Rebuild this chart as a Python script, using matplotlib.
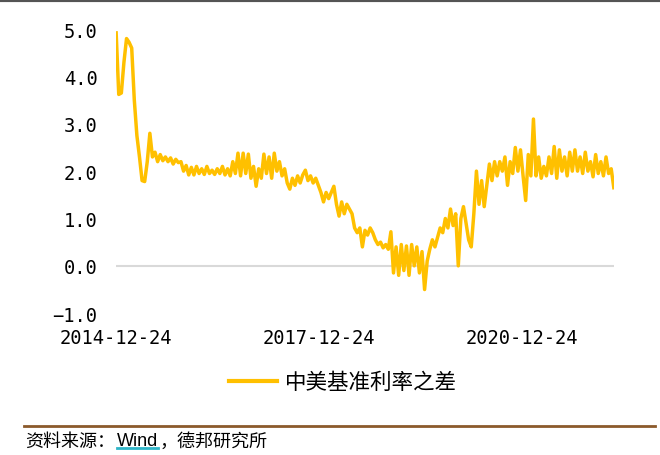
import numpy as np
import pandas as pd
import matplotlib
matplotlib.use("Agg")
import matplotlib.pyplot as plt
from matplotlib.lines import Line2D

plt.rcParams['font.family'] = ['Noto Sans CJK SC', 'DejaVu Sans']

# 中美基准利率之差 (%), sampled every 2 weeks from 2014-12-24
start_date = "2014-12-24"
spread = [
    4.92, 3.62, 3.65, 4.30, 4.80, 4.72, 4.60, 3.50, 2.75, 2.30,
    1.80, 1.78, 2.20, 2.80, 2.30, 2.40, 2.20, 2.35, 2.22, 2.30,
    2.20, 2.28, 2.15, 2.25, 2.18, 2.20, 2.00, 2.12, 1.92, 2.08,
    1.92, 2.10, 1.95, 2.05, 1.93, 2.10, 1.95, 2.02, 1.93, 2.05,
    1.95, 2.10, 1.92, 2.05, 1.90, 2.20, 1.95, 2.38, 1.90, 2.38,
    1.95, 2.36, 1.85, 2.10, 1.68, 2.05, 1.85, 2.36, 1.95, 2.30,
    1.85, 2.38, 2.00, 2.20, 1.90, 2.05, 1.75, 1.62, 1.85, 1.70,
    1.90, 1.75, 1.92, 2.02, 1.80, 1.90, 1.75, 1.85, 1.70, 1.55,
    1.35, 1.55, 1.42, 1.55, 1.68, 1.30, 1.05, 1.35, 1.10, 1.30,
    1.20, 1.10, 0.80, 0.70, 0.80, 0.40, 0.75, 0.65, 0.80, 0.70,
    0.55, 0.45, 0.50, 0.38, 0.45, 0.35, 0.72, -0.15, 0.40, -0.20,
    0.45, -0.10, 0.42, -0.20, 0.45, 0.00, 0.40, -0.15, 0.30, -0.50,
    0.10, 0.35, 0.55, 0.40, 0.60, 0.80, 0.70, 1.00, 0.80, 1.20,
    0.85, 1.10, 0.00, 1.00, 1.25, 0.90, 0.55, 0.40, 1.10, 2.00,
    1.30, 1.80, 1.25, 1.70, 2.15, 1.80, 2.20, 1.90, 2.20, 2.00,
    2.30, 1.70, 2.20, 1.95, 2.50, 2.00, 2.45, 1.90, 1.38, 2.35,
    1.90, 3.10, 1.90, 2.30, 1.85, 2.10, 1.90, 2.30, 1.95, 2.52,
    1.85, 2.45, 2.00, 2.30, 1.90, 2.40, 2.00, 2.45, 2.00, 2.30,
    1.95, 2.40, 2.00, 2.20, 1.88, 2.35, 1.95, 2.20, 1.90, 2.30,
    1.95, 2.05, 1.65,
]
dates = pd.date_range(start_date, periods=len(spread), freq="14D")
xtick_dates = pd.to_datetime(["2014-12-24", "2017-12-24", "2020-12-24"])
yticks = [-1.0, 0.0, 1.0, 2.0, 3.0, 4.0, 5.0]

gold = "#FFC000"

fig = plt.figure(figsize=(6.6, 4.56), dpi=100)
ax = fig.add_axes([0.176, 0.311, 0.754, 0.623])

ax.axhline(0, color="#D9D9D9", lw=1.5, zorder=1)
ax.plot(dates, spread, color=gold, lw=2.5, zorder=2)

ax.set_xlim(dates[0], dates[-1])
ax.set_ylim(-1, 5)
ax.set_yticks(yticks)
ax.set_yticklabels([f"{v:.1f}".replace("-", "\u2212") for v in yticks],
                   family="DejaVu Sans Mono", fontsize=13.5)
ax.set_xticks(xtick_dates)
ax.set_xticklabels([d.strftime("%Y-%m-%d") for d in xtick_dates],
                   family="DejaVu Sans Mono", fontsize=13.5)
ax.tick_params(axis="both", length=0)
ax.tick_params(axis="y", pad=13.5)
ax.tick_params(axis="x", pad=11)
for s in ax.spines.values():
    s.set_visible(False)

handle = Line2D([], [], color=gold, lw=3)
fig.legend([handle], ["中美基准利率之差"], loc="center", bbox_to_anchor=(0.52, 0.16),
           frameon=False, fontsize=15.5, handlelength=2.2, handletextpad=0.4)

# top border and source note
fig.add_artist(Line2D([0, 1], [0.997, 0.997], color="#555555", lw=3))
fig.add_artist(Line2D([0.036, 0.993], [0.063, 0.063], color="#8B5A2B", lw=2))
fig.text(0.038, 0.032, "资料来源：", fontsize=13, va="center")
fig.text(0.177, 0.032, "Wind", fontsize=13, va="center", family="Liberation Sans")
fig.add_artist(Line2D([0.177, 0.240], [0.015, 0.015], color="#2FB5C8", lw=2))
fig.text(0.241, 0.032, "，德邦研究所", fontsize=13, va="center")

fig.savefig("out.png", dpi=100)
